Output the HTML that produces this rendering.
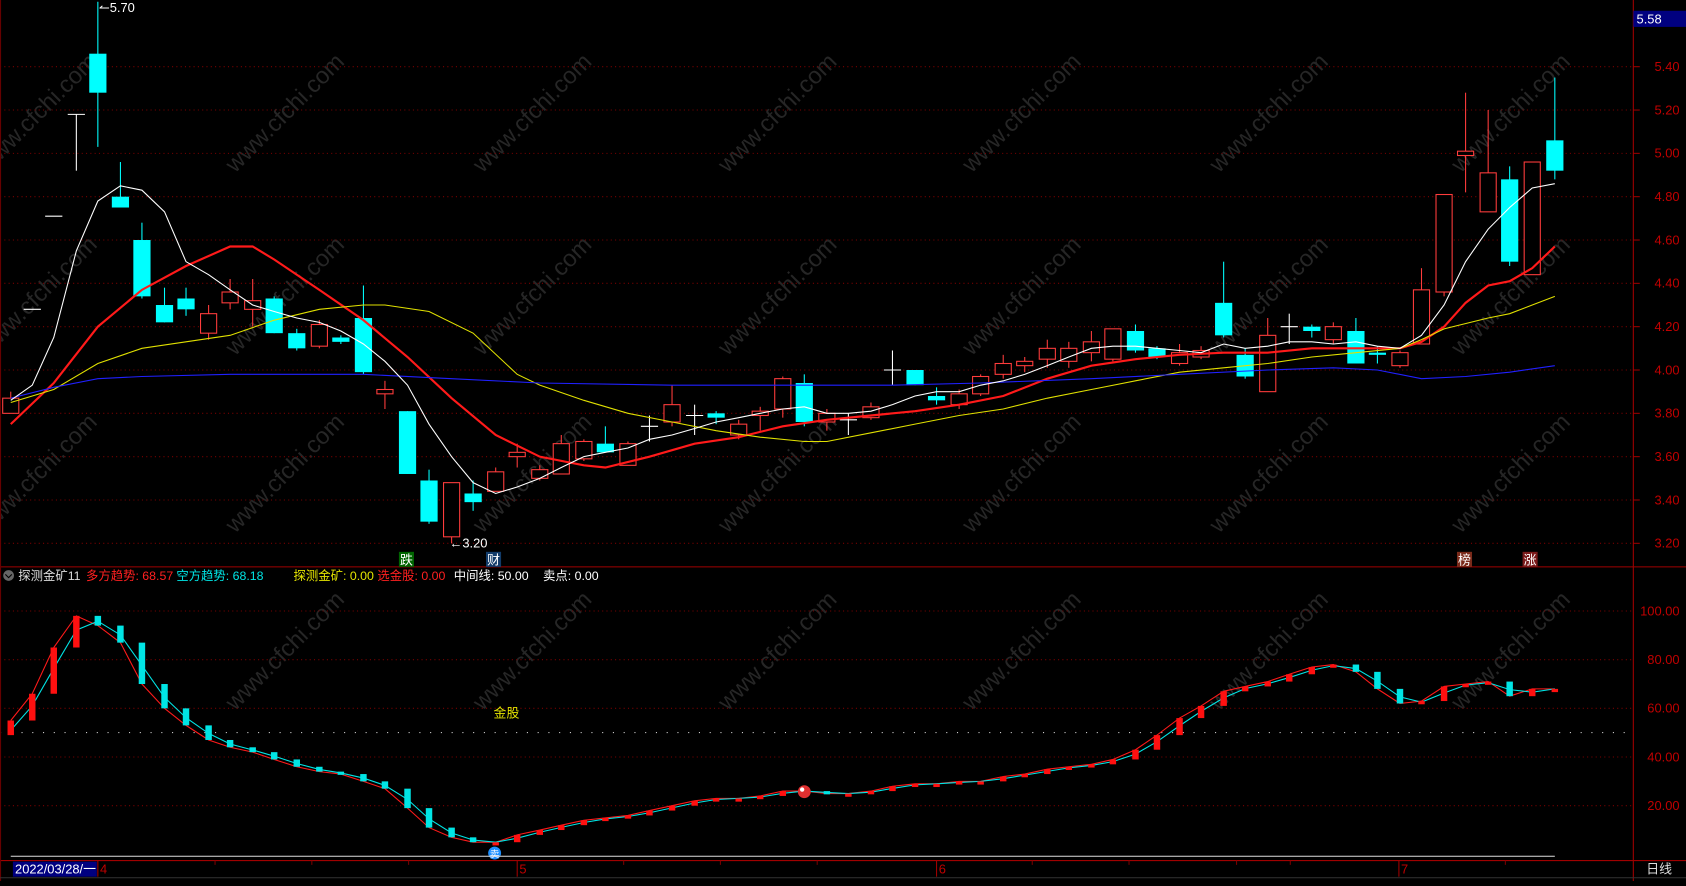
<!DOCTYPE html>
<html><head><meta charset="utf-8"><style>
html,body{margin:0;padding:0;background:#000;overflow:hidden;width:1686px;height:881px}
#w{position:absolute;left:0;top:0;width:1568px;height:819px;transform:scale(1.07526,1.0757);transform-origin:0 0;font-family:"Liberation Sans","Noto Sans CJK SC",sans-serif}
svg text{font-family:"Liberation Sans","Noto Sans CJK SC",sans-serif}
</style></head><body><div id="w"><svg id="s" width="1568" height="819" xmlns="http://www.w3.org/2000/svg"></svg></div>
<script>
const S=document.getElementById('s');let h='';
const py=p=>62+(5.40-p)*201.4, iy=v=>568+(100-v)*2.2625;
// watermarks
[[40,110],[270,110],[500,110],[728,110],[955,110],[1185,110],[1410,110],[40,280],[270,280],[500,280],[728,280],[955,280],[1185,280],[1410,280],[40,445],[270,445],[500,445],[728,445],[955,445],[1185,445],[1410,445],[270,610],[500,610],[728,610],[955,610],[1185,610],[1410,610]].forEach(([x,y])=>{h+=`<text x="${x}" y="${y}" transform="rotate(-45 ${x} ${y})" fill="#262626" font-size="22" text-anchor="middle">www.cfchi.com</text>`});
// grid main
for(let p=3.2;p<=5.41;p+=0.2){const y=py(p);h+=`<line x1="0" x2="1519" y1="${y}" y2="${y}" stroke="#7a0000" stroke-dasharray="1,3"/><text x="1562" y="${y+4}" fill="#c00000" font-size="12" text-anchor="end">${p.toFixed(2)}</text><line x1="1519" x2="1525" y1="${y}" y2="${y}" stroke="#900"/>`}
for(let v=20;v<=100;v+=20){const y=iy(v);h+=`<line x1="0" x2="1519" y1="${y}" y2="${y}" stroke="#7a0000" stroke-dasharray="1,3"/><text x="1562" y="${y+4}" fill="#c00000" font-size="12" text-anchor="end">${v.toFixed(2)}</text>`}
h+=`<line x1="0" x2="1519" y1="681" y2="681" stroke="#ccc" stroke-dasharray="1,9"/>`;
h+=`<line x1="1519" x2="1519" y1="0" y2="819" stroke="#a00000"/><line x1="0" x2="1568" y1="527" y2="527" stroke="#a00000"/><line x1="0" x2="1568" y1="800" y2="800" stroke="#a00000"/><line x1="0.5" x2="0.5" y1="0" y2="819" stroke="#600"/>`;
h+=`<rect x="1519" y="10" width="49" height="15" fill="#000080"/><text x="1522" y="22" fill="#fff" font-size="12">5.58</text>`;
// candles: x,type,top,bottom,high,low
const C=[[10,'r',3.87,3.80,3.90,3.80],[30,'w',4.28,4.28,4.28,4.28],[50,'w',4.71,4.71,4.71,4.71],[71,'w',5.18,5.18,5.18,4.92],[91,'c',5.46,5.28,5.70,5.03],[112,'c',4.80,4.75,4.96,4.75],[132,'c',4.60,4.34,4.68,4.33],[153,'c',4.30,4.22,4.38,4.22],[173,'c',4.33,4.28,4.38,4.25],[194,'r',4.26,4.17,4.30,4.14],[214,'r',4.36,4.31,4.42,4.28],[235,'r',4.32,4.28,4.42,4.20],[255,'c',4.33,4.17,4.34,4.17],[276,'c',4.17,4.10,4.19,4.09],[297,'r',4.21,4.11,4.23,4.10],[317,'c',4.15,4.13,4.16,4.12],[338,'c',4.24,3.99,4.39,3.98],[358,'r',3.91,3.89,3.95,3.82],[379,'c',3.81,3.52,3.81,3.52],[399,'c',3.49,3.30,3.54,3.29],[420,'r',3.48,3.23,3.48,3.20],[440,'c',3.43,3.39,3.49,3.35],[461,'r',3.53,3.44,3.55,3.44],[481,'r',3.62,3.60,3.66,3.55],[502,'r',3.54,3.50,3.56,3.49],[522,'r',3.66,3.52,3.70,3.52],[543,'r',3.67,3.59,3.68,3.58],[563,'c',3.66,3.62,3.74,3.62],[584,'r',3.66,3.56,3.67,3.56],[604,'w',3.74,3.74,3.79,3.67],[625,'r',3.84,3.76,3.93,3.74],[646,'w',3.79,3.79,3.84,3.70],[666,'c',3.80,3.78,3.81,3.75],[687,'r',3.75,3.70,3.77,3.68],[707,'r',3.81,3.79,3.83,3.72],[728,'r',3.96,3.82,3.97,3.78],[748,'c',3.94,3.76,3.98,3.74],[769,'r',3.80,3.76,3.82,3.72],[789,'w',3.77,3.77,3.80,3.70],[810,'r',3.83,3.78,3.85,3.77],[830,'w',4.00,4.00,4.09,3.93],[851,'c',4.00,3.93,4.00,3.93],[871,'c',3.88,3.86,3.92,3.84],[892,'r',3.89,3.84,3.91,3.82],[912,'r',3.97,3.89,3.98,3.88],[933,'r',4.03,3.98,4.07,3.96],[953,'r',4.04,4.02,4.06,3.99],[974,'r',4.10,4.05,4.14,4.01],[994,'r',4.10,4.04,4.13,4.01],[1015,'r',4.13,4.08,4.18,4.04],[1035,'r',4.19,4.05,4.19,4.04],[1056,'c',4.18,4.09,4.21,4.08],[1076,'c',4.10,4.06,4.11,4.05],[1097,'r',4.08,4.03,4.12,4.02],[1117,'r',4.09,4.06,4.11,4.05],[1138,'c',4.31,4.16,4.50,4.15],[1158,'c',4.07,3.97,4.10,3.96],[1179,'r',4.16,3.90,4.24,3.90],[1199,'w',4.20,4.20,4.26,4.12],[1220,'c',4.20,4.18,4.21,4.15],[1240,'r',4.20,4.14,4.22,4.12],[1261,'c',4.18,4.03,4.24,4.03],[1281,'c',4.08,4.07,4.11,4.03],[1302,'r',4.08,4.02,4.09,4.01],[1322,'r',4.37,4.12,4.47,4.12],[1343,'r',4.81,4.36,4.81,4.34],[1363,'r',5.01,4.99,5.28,4.82],[1384,'r',4.91,4.73,5.20,4.73],[1404,'c',4.88,4.50,4.94,4.48],[1425,'r',4.96,4.44,4.96,4.44],[1446,'c',5.06,4.92,5.35,4.88]];
C.forEach(([x,t,a,b,hi,lo])=>{const col=t=='c'?'#00ffff':t=='r'?'#ff3c3c':'#fff';h+=`<line x1="${x}" x2="${x}" y1="${py(hi)}" y2="${py(lo)}" stroke="${col}"/>`;
if(t=='w')h+=`<line x1="${x-8}" x2="${x+8}" y1="${py(a)}" y2="${py(a)}" stroke="#fff"/>`;
else{const y1=py(a),y2=py(b),hh=Math.max(y2-y1,2);h+=t=='c'?`<rect x="${x-8}" y="${y1}" width="16" height="${hh}" fill="#00ffff"/>`:`<rect x="${x-7.5}" y="${y1}" width="15" height="${hh}" fill="#000" stroke="#ff3c3c"/>`}});
const line=(pts,c,w)=>{h+=`<polyline fill="none" stroke="${c}" stroke-width="${w}" points="${pts.map(([x,p])=>x+','+py(p)).join(' ')}"/>`};
line([[10,3.75],[50,3.94],[91,4.2],[132,4.37],[173,4.48],[214,4.57],[235,4.57],[255,4.51],[297,4.37],[338,4.23],[379,4.06],[420,3.87],[461,3.7],[502,3.6],[543,3.56],[563,3.55],[604,3.6],[646,3.66],[687,3.69],[728,3.74],[769,3.77],[810,3.79],[851,3.81],[892,3.84],[933,3.88],[974,3.96],[1015,4.02],[1056,4.05],[1097,4.07],[1138,4.08],[1179,4.08],[1220,4.1],[1261,4.1],[1302,4.1],[1322,4.13],[1343,4.2],[1363,4.31],[1384,4.39],[1404,4.41],[1425,4.47],[1446,4.57]],'#ff1a1a',2);
line([[10,3.85],[50,3.91],[91,4.03],[132,4.1],[173,4.13],[214,4.16],[255,4.23],[297,4.28],[338,4.3],[358,4.3],[399,4.27],[440,4.17],[481,3.98],[502,3.93],[543,3.86],[584,3.8],[625,3.76],[666,3.72],[707,3.69],[748,3.67],[769,3.67],[810,3.71],[851,3.75],[892,3.79],[933,3.82],[974,3.87],[1015,3.91],[1056,3.95],[1097,3.99],[1138,4.01],[1179,4.03],[1220,4.06],[1261,4.08],[1302,4.1],[1322,4.14],[1343,4.19],[1384,4.24],[1404,4.26],[1425,4.3],[1446,4.34]],'#e0e000',1);
line([[10,3.87],[50,3.92],[91,3.96],[132,3.97],[214,3.98],[338,3.98],[420,3.96],[502,3.94],[625,3.93],[830,3.93],[912,3.94],[1015,3.96],[1097,3.98],[1179,4.0],[1240,4.01],[1281,4.0],[1322,3.96],[1363,3.97],[1404,3.99],[1446,4.02]],'#2020ff',1);
const W5=[3.86,3.93,4.15,4.55,4.78,4.85,4.83,4.73,4.5,4.44,4.37,4.3,4.27,4.24,4.22,4.18,4.12,4.04,3.93,3.75,3.6,3.48,3.43,3.46,3.5,3.55,3.6,3.62,3.64,3.68,3.7,3.73,3.76,3.78,3.8,3.82,3.83,3.8,3.8,3.81,3.84,3.88,3.9,3.9,3.93,3.95,3.98,4.02,4.06,4.1,4.11,4.11,4.10,4.09,4.08,4.12,4.1,4.11,4.13,4.13,4.12,4.13,4.11,4.1,4.16,4.3,4.5,4.65,4.75,4.84,4.86];
line(C.map((c,i)=>[c[0],W5[i]]),'#fff',1);
h+=`<text x="92" y="11" fill="#fff" font-size="12">↼5.70</text><text x="418" y="509" fill="#fff" font-size="12">←3.20</text>`;
const tag=(x,t,bg)=>{h+=`<rect x="${x-7}" y="513" width="14" height="14" fill="${bg}"/><text x="${x}" y="525" fill="#fff" font-size="12" text-anchor="middle">${t}</text>`};
tag(378,'跌','#006400');tag(459,'财','#123c6a');tag(1362,'榜','#7a2a1a');tag(1423,'涨','#7a1a1a');
// legend
h+=`<circle cx="8" cy="535" r="5" fill="#666"/><path d="M5 534 L8 537 L11 534" stroke="#000" fill="none"/>
<text y="539" font-size="11.5"><tspan x="17" fill="#ddd">探测金矿11</tspan><tspan x="80" fill="#ff2020">多方趋势: 68.57</tspan><tspan x="164" fill="#00e5e5">空方趋势: 68.18</tspan><tspan x="273" fill="#e5e500">探测金矿: 0.00</tspan><tspan x="351" fill="#ff2020">选金股: 0.00</tspan><tspan x="422" fill="#fff">中间线: 50.00</tspan><tspan x="505" fill="#fff">卖点: 0.00</tspan></text>`;
// indicator
const V=[55,66,85,98,94,87,70,60,53,47,44,42,39,36,34,33,30,27,19,11,7,5,5,8,10,12,14,15,16,18,20,22,23,23,24,26,26,25,25,26,28,29,29,30,30,32,33,35,36,37,39,43,49,56,61,67,69,71,74,77,78,75,68,62,63,69,70,71,65,68,68];
let red=[],cy=[];C.forEach((c,i)=>{red.push(c[0]+','+iy(V[i]));const pv=i?V[i-1]:V[0]-8;cy.push(c[0]+','+iy((V[i]+pv)/2+ (i?0:0)));});
h+=`<polyline fill="none" stroke="#ff1a1a" points="${red.join(' ')}"/><polyline fill="none" stroke="#00e5e5" points="${C.map((c,i)=>c[0]+','+iy(i?V[i-1]*0.45+V[i]*0.55:V[0]-4)).join(' ')}"/>`;
C.forEach((c,i)=>{const pv=i?V[i-1]:V[0]-6,a=iy(Math.max(pv,V[i])),b=iy(Math.min(pv,V[i]));const col=V[i]>=pv?'#ff1010':'#00e5e5';h+=`<rect x="${c[0]-3}" y="${a}" width="6" height="${Math.max(b-a,3)}" fill="${col}"/>`});
h+=`<text x="471" y="667" fill="#e5e500" font-size="12" text-anchor="middle">金股</text>`;
h+=`<circle cx="748" cy="736" r="6" fill="#e03030"/><circle cx="746" cy="734" r="2" fill="#fff"/><circle cx="460" cy="793" r="6" fill="#1e90ff"/><text x="460" y="797" fill="#fff" font-size="9" text-anchor="middle">卖</text>`;
h+=`<line x1="10" x2="1446" y1="796" y2="796" stroke="#ddd"/>`;
// x axis
h+=`<rect x="12" y="801" width="78" height="14" fill="#000080"/><text x="14" y="812" fill="#fff" font-size="12">2022/03/28/一</text>`;
[[93,'4'],[483,'5'],[873,'6'],[1303,'7']].forEach(([x,t])=>{h+=`<line x1="${x-2}" x2="${x-2}" y1="800" y2="815" stroke="#a00000"/><text x="${x}" y="812" fill="#c00000" font-size="12">${t}</text>`});
[200,290,380,580,670,760,960,1050,1150,1200,1400].forEach(x=>{h+=`<line x1="${x}" x2="${x}" y1="800" y2="804" stroke="#700"/>`});
h+=`<line x1="0" x2="1568" y1="816" y2="816" stroke="#333"/><text x="1543" y="812" fill="#ddd" font-size="12" text-anchor="middle">日线</text>`;
S.innerHTML=h;
</script></body></html>
